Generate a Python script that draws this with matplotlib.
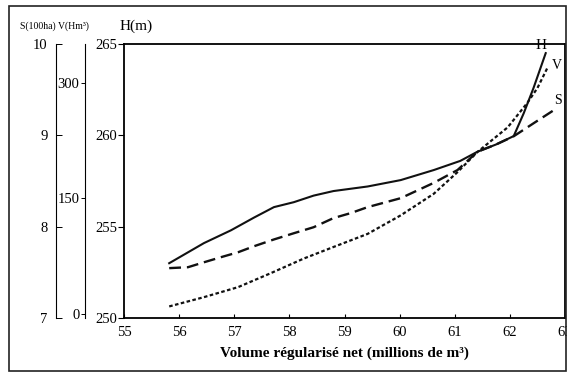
import matplotlib
matplotlib.use("Agg")
import matplotlib.pyplot as plt
from matplotlib.patches import Rectangle

plt.rcParams['font.family'] = ['Liberation Serif', 'DejaVu Serif']

# --- data ---
x_ticks = [55, 56, 57, 58, 59, 60, 61, 62, 63]
h_ticks = [250, 255, 260, 265]
s_ticks = [7, 8, 9, 10]
v_ticks = [0, 150, 300]

# H (m) - solid
x_h = [55.82, 56.45, 56.94, 57.36, 57.72, 58.08, 58.44, 58.8, 59.42, 60.02,
       60.62, 61.1, 61.41, 61.75, 62.07, 62.25, 62.43, 62.65]
h_vals = [253.0, 254.1, 254.8, 255.5, 256.07, 256.34, 256.7, 256.95, 257.2, 257.55,
          258.1, 258.6, 259.1, 259.5, 259.96, 261.2, 262.6, 264.5]

# S (100 ha) - dashed
x_s = [55.82, 56.16, 56.45, 56.76, 57.07, 57.36, 57.72, 58.08, 58.44, 58.8,
       59.11, 59.42, 60.02, 60.62, 61.05, 61.41, 61.75, 62.07, 62.45, 62.86]
s_vals = [7.546, 7.556, 7.61, 7.666, 7.72, 7.786, 7.86, 7.928, 7.994, 8.094,
          8.148, 8.214, 8.312, 8.48, 8.62, 8.82, 8.9, 8.99, 9.14, 9.30]

# V (Hm3) - dotted
x_v = [55.82, 56.45, 57.07, 57.66, 58.26, 58.8, 59.42, 60.02, 60.62, 61.05,
       61.41, 61.96, 62.32, 62.5, 62.68]
v_vals = [10, 22, 35, 53, 72, 87, 104, 128, 156, 184, 210, 242, 274, 293, 319]

W, H = 567, 376
fig = plt.figure(figsize=(W / 100, H / 100), dpi=100)

top_px, bot_px = 44, 318
b = 1 - bot_px / H
hgt = (bot_px - top_px) / H

ax = fig.add_axes([124 / W, b, (565 - 124) / W, hgt])
ax.set_xlim(55, 63)
ax.set_ylim(250, 265)
ax.set_xticks(x_ticks)
ax.set_yticks(h_ticks)
ax.tick_params(axis='x', direction='in', length=3, labelsize=10.5, pad=6, width=0.8)
ax.tick_params(axis='y', direction='out', length=4, labelsize=10.5, pad=1, width=0.8)
for sp in ax.spines.values():
    sp.set_linewidth(1.3)
ax.set_xlabel("Volume régularisé net (millions de m³)", fontsize=11, fontweight='bold', labelpad=5)

col = '#111111'
ax.plot(x_h, h_vals, color=col, lw=1.5, ls='-')

axS = fig.add_axes([124 / W, b, (565 - 124) / W, hgt], sharex=ax)
axS.set_ylim(7, 10)
axS.axis('off')
axS.plot(x_s, s_vals, color=col, lw=1.7, ls=(0, (5, 2.5)))

axV = fig.add_axes([124 / W, b, (565 - 124) / W, hgt], sharex=ax)
axV.set_ylim(-5, 350)
axV.axis('off')
axV.plot(x_v, v_vals, color=col, lw=1.6, ls=(0, (1.6, 1.1)))

ax.text(62.57, 264.9, "H", fontsize=11, ha='center', va='center')
ax.text(62.86, 263.8, "V", fontsize=10, ha='center', va='center')
ax.text(62.87, 261.9, "S", fontsize=10, ha='center', va='center')

# Scale axis S
sa = fig.add_axes([56 / W, b, 0.001, hgt])
sa.set_ylim(7, 10)
sa.set_yticks(s_ticks)
sa.set_xticks([])
for k in ['right', 'top', 'bottom']:
    sa.spines[k].set_visible(False)
sa.spines['left'].set_linewidth(0.8)
sa.patch.set_alpha(0)
sa.tick_params(axis='y', direction='in', length=4, labelsize=10.5, pad=6, width=0.7)

# Scale axis V
va = fig.add_axes([85 / W, b, 0.001, hgt])
va.set_ylim(-5, 350)
va.set_yticks(v_ticks)
va.set_xticks([])
for k in ['right', 'top', 'bottom']:
    va.spines[k].set_visible(False)
va.spines['left'].set_linewidth(0.8)
va.patch.set_alpha(0)
va.tick_params(axis='y', direction='out', length=3, labelsize=10.5, pad=1, width=0.7)

fig.text(20 / W, 1 - 26 / H, "S(100ha) V(Hm³)", fontsize=7, ha='left', va='center')
fig.text(120 / W, 1 - 26 / H, "H(m)", fontsize=11, ha='left', va='center')

fig.patches.append(Rectangle((9 / W, 1 - 371 / H), (566 - 9) / W, (371 - 6) / H,
                             transform=fig.transFigure, fill=False, lw=1.2, ec='#222222'))

fig.savefig("out.png", dpi=100)
